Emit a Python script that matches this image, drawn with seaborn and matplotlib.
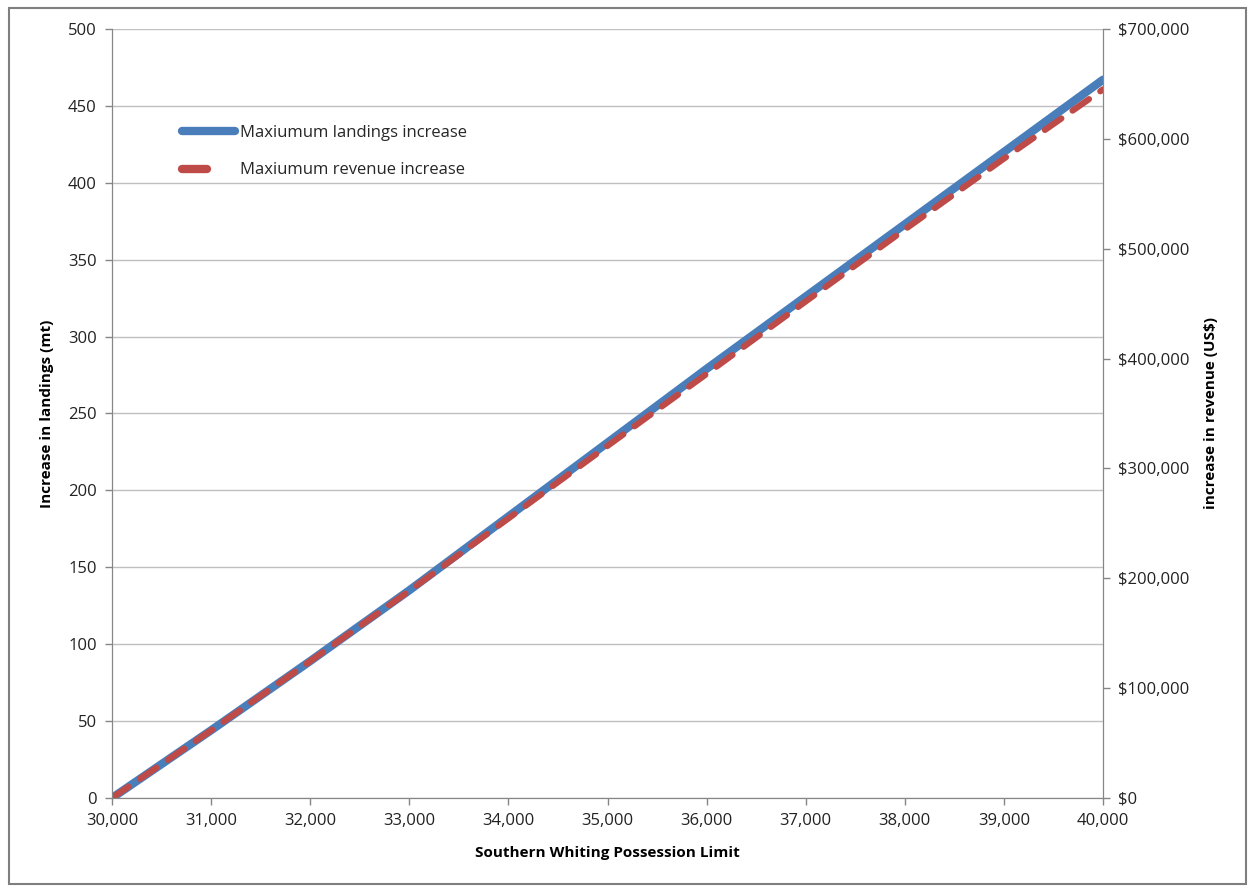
import matplotlib
matplotlib.use("Agg")
import matplotlib.pyplot as plt
import matplotlib.ticker as mticker
from matplotlib.lines import Line2D
from matplotlib.patches import Rectangle
import seaborn as sns
import pandas as pd

# possession limit (lbs)
limits = [30000, 31000, 32000, 33000, 34000, 35000, 36000, 37000, 38000, 39000, 40000]
# increase in landings (mt)
landings = [0, 44, 89, 135, 183, 231, 279, 326, 373, 420, 467]
# increase in revenue (US$)
revenue = [0, 61500, 124500, 188500, 254500, 320500, 386000, 452000, 517500, 582000, 645000]

df = pd.DataFrame({"limit": limits, "landings": landings, "revenue": revenue})

sns.set_style("white")
plt.rcParams["font.family"] = ["Open Sans", "DejaVu Sans"]

grey = "#868686"
blue = "#4a7ebb"
red = "#be4b48"

fig = plt.figure(figsize=(12.5, 8.88), dpi=100)
ax = fig.add_axes([0.0896, 0.1014, 0.7928, 0.8660])
ax2 = ax.twinx()

sns.lineplot(data=df, x="limit", y="landings", ax=ax, color=blue, linewidth=6,
             solid_capstyle="round")
sns.lineplot(data=df, x="limit", y="revenue", ax=ax2, color=red, linewidth=4.5,
             dashes=False)
ax2.lines[0].set_dashes([3.2, 2.2])
ax2.lines[0].set_dash_capstyle("round")

ax.set_xlim(30000, 40000)
ax.set_ylim(0, 500)
ax2.set_ylim(0, 700000)
ax.set_xticks(limits)
ax.set_yticks(range(0, 501, 50))
ax2.set_yticks(range(0, 700001, 100000))
ax.xaxis.set_major_formatter(mticker.StrMethodFormatter("{x:,.0f}"))
ax2.yaxis.set_major_formatter(mticker.StrMethodFormatter("${x:,.0f}"))

ax.grid(axis="y", color="#bfbfbf", linewidth=1)
ax.grid(axis="x", visible=False)
ax.set_axisbelow(True)

for a in (ax, ax2):
    for s in a.spines.values():
        s.set_color(grey)
    a.spines["top"].set_visible(False)
    a.tick_params(colors=grey, labelcolor="#222222", labelsize=12, length=5, width=1)
ax.tick_params(axis="both", direction="out", left=True, bottom=True, pad=6)
ax2.tick_params(axis="y", direction="out", right=True, pad=6)

lab = dict(fontsize=11, fontweight="bold", color="black")
ax.set_xlabel("Southern Whiting Possession Limit", labelpad=12, **lab)
ax.set_ylabel("Increase in landings (mt)", labelpad=10, **lab)
ax2.set_ylabel("increase in revenue (US$)", labelpad=10, **lab)

handles = [
    Line2D([0], [0], color=blue, linewidth=6, solid_capstyle="round"),
    Line2D([0], [0], color=red, linewidth=6, dash_capstyle="round"),
]
handles[1].set_dashes([3.0, 10])
ax2.legend(handles, ["Maxiumum landings increase", "Maxiumum revenue increase"],
           loc="upper left", bbox_to_anchor=(0.055, 0.895), frameon=False,
           fontsize=12, handlelength=3.2, handletextpad=0.3, labelspacing=1.3)

fig.patches.append(Rectangle((0.007, 0.005), 0.99, 0.986, transform=fig.transFigure,
                             fill=False, edgecolor="#7f7f7f", linewidth=1.5))

fig.savefig("out.png", dpi=100)
